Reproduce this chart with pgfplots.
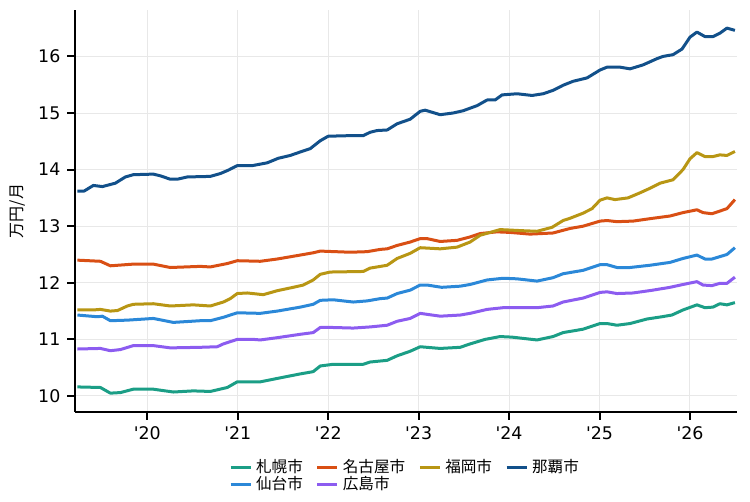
\documentclass[border=0pt]{standalone}
\usepackage{fontspec}
\setmainfont{DejaVu Sans}
\newfontfamily\dejavu{DejaVu Sans}
\newfontfamily\cjk{Noto Sans CJK JP}
\usepackage{pgfplots}
\pgfplotsset{compat=1.18}
\definecolor{csap}{HTML}{1B9E86}
\definecolor{cnag}{HTML}{D94F14}
\definecolor{cfuk}{HTML}{B89614}
\definecolor{cnah}{HTML}{12508A}
\definecolor{csen}{HTML}{2B88D8}
\definecolor{chir}{HTML}{8C5CF0}
\begin{document}
\begin{tikzpicture}
\begin{axis}[
  at={(0,0)}, anchor=south west,
  scale only axis, width=331pt, height=201pt,
  xmin=2019.2, xmax=2026.52, ymin=9.717, ymax=16.82,
  axis lines=left, axis line style={line width=1.1pt, -},
  xtick={2020,2021,2022,2023,2024,2025,2026},
  xticklabels={'20,'21,'22,'23,'24,'25,'26},
  ytick={10,11,12,13,14,15,16},
  tick align=outside, major tick length=3.8pt,
  tick style={line width=1pt, black},
  grid=major, grid style={line width=0.5pt, gray!18},
  /pgf/number format/assume math mode=true,
  every tick label/.append style={font=\dejavu\fontsize{8.7}{10}\selectfont},
  ylabel={\cjk 万円/月},
  ylabel style={at={(axis description cs:-0.086,0.5)}, anchor=center, font=\fontsize{8}{9.6}\selectfont},
  legend columns=4,
  legend style={at={(axis description cs:0.5,-0.096)}, anchor=north, draw=none, fill=none,
    font=\cjk\fontsize{7.8}{9}\selectfont, row sep=-3.3pt,
    /tikz/every even column/.append style={column sep=4.5pt}},
  legend cell align=left,
  legend image code/.code={\draw[#1, line width=1.5pt] (0pt,0pt) -- (10pt,0pt);},
  every axis plot/.append style={line width=1.5pt, line join=round},
]
% 札幌市
\addplot[csap] coordinates {
(2019.227,10.16)(2019.481,10.15)(2019.591,10.05)(2019.702,10.06)(2019.845,10.12)(2020.066,10.12)(2020.287,10.07)(2020.508,10.09)(2020.696,10.08)(2020.884,10.15)(2020.994,10.25)(2021.249,10.25)(2021.436,10.31)(2021.691,10.39)(2021.834,10.43)(2021.912,10.53)(2022.055,10.56)(2022.387,10.56)(2022.464,10.60)(2022.652,10.63)(2022.762,10.71)(2022.906,10.79)(2023.017,10.87)(2023.238,10.84)(2023.459,10.86)(2023.569,10.92)(2023.735,11.00)(2023.901,11.05)(2024.030,11.04)(2024.309,10.99)(2024.486,11.05)(2024.597,11.12)(2024.818,11.18)(2025.006,11.28)(2025.083,11.28)(2025.193,11.25)(2025.337,11.28)(2025.525,11.36)(2025.690,11.40)(2025.800,11.43)(2025.923,11.52)(2026.077,11.61)(2026.166,11.56)(2026.254,11.57)(2026.331,11.63)(2026.409,11.61)(2026.497,11.65)
};
\addlegendentry{札幌市}
% 名古屋市
\addplot[cnag] coordinates {
(2019.227,12.40)(2019.481,12.38)(2019.591,12.30)(2019.845,12.33)(2020.066,12.33)(2020.254,12.27)(2020.586,12.29)(2020.696,12.28)(2020.884,12.34)(2020.994,12.39)(2021.249,12.38)(2021.436,12.42)(2021.691,12.49)(2021.834,12.53)(2021.912,12.56)(2022.243,12.54)(2022.431,12.55)(2022.575,12.59)(2022.652,12.60)(2022.762,12.66)(2022.906,12.72)(2023.017,12.78)(2023.094,12.78)(2023.238,12.73)(2023.425,12.75)(2023.569,12.81)(2023.680,12.87)(2023.867,12.90)(2024.011,12.89)(2024.232,12.86)(2024.486,12.88)(2024.674,12.96)(2024.818,13.00)(2025.006,13.09)(2025.083,13.10)(2025.193,13.08)(2025.370,13.09)(2025.591,13.14)(2025.779,13.18)(2025.923,13.24)(2026.077,13.29)(2026.144,13.24)(2026.243,13.22)(2026.409,13.31)(2026.497,13.47)
};
\addlegendentry{名古屋市}
% 福岡市
\addplot[cfuk] coordinates {
(2019.227,11.52)(2019.403,11.52)(2019.481,11.53)(2019.591,11.50)(2019.670,11.51)(2019.779,11.59)(2019.845,11.62)(2020.066,11.63)(2020.254,11.59)(2020.508,11.61)(2020.696,11.59)(2020.840,11.66)(2020.917,11.72)(2020.994,11.81)(2021.105,11.82)(2021.282,11.79)(2021.436,11.86)(2021.613,11.92)(2021.724,11.96)(2021.834,12.05)(2021.912,12.15)(2022.022,12.19)(2022.387,12.20)(2022.464,12.26)(2022.652,12.31)(2022.762,12.43)(2022.906,12.52)(2023.017,12.62)(2023.238,12.60)(2023.425,12.63)(2023.569,12.72)(2023.680,12.84)(2023.901,12.94)(2024.155,12.92)(2024.309,12.91)(2024.475,12.98)(2024.597,13.10)(2024.674,13.14)(2024.818,13.23)(2024.917,13.31)(2025.006,13.46)(2025.083,13.50)(2025.171,13.47)(2025.315,13.50)(2025.448,13.59)(2025.558,13.67)(2025.669,13.76)(2025.812,13.82)(2025.923,14.00)(2026.000,14.19)(2026.077,14.30)(2026.166,14.23)(2026.254,14.23)(2026.331,14.26)(2026.409,14.25)(2026.497,14.32)
};
\addlegendentry{福岡市}
% 那覇市
\addplot[cnah] coordinates {
(2019.227,13.62)(2019.300,13.62)(2019.403,13.72)(2019.503,13.70)(2019.646,13.76)(2019.757,13.87)(2019.845,13.91)(2020.066,13.92)(2020.144,13.89)(2020.254,13.83)(2020.331,13.83)(2020.442,13.87)(2020.696,13.88)(2020.807,13.93)(2020.895,13.99)(2020.994,14.07)(2021.160,14.07)(2021.326,14.12)(2021.448,14.20)(2021.580,14.25)(2021.724,14.33)(2021.801,14.37)(2021.912,14.51)(2022.000,14.59)(2022.243,14.60)(2022.387,14.60)(2022.464,14.66)(2022.541,14.69)(2022.652,14.70)(2022.762,14.81)(2022.906,14.89)(2023.017,15.03)(2023.072,15.05)(2023.238,14.97)(2023.381,15.00)(2023.492,15.04)(2023.646,15.13)(2023.757,15.23)(2023.845,15.23)(2023.923,15.32)(2024.088,15.34)(2024.254,15.31)(2024.376,15.34)(2024.486,15.40)(2024.597,15.49)(2024.707,15.56)(2024.862,15.62)(2025.006,15.76)(2025.083,15.81)(2025.227,15.81)(2025.337,15.78)(2025.481,15.85)(2025.635,15.96)(2025.702,16.00)(2025.812,16.03)(2025.912,16.13)(2026.000,16.34)(2026.077,16.43)(2026.166,16.35)(2026.254,16.35)(2026.331,16.41)(2026.409,16.50)(2026.497,16.46)
};
\addlegendentry{那覇市}
% 仙台市
\addplot[csen] coordinates {
(2019.227,11.43)(2019.448,11.40)(2019.503,11.41)(2019.591,11.33)(2019.779,11.34)(2020.066,11.37)(2020.287,11.30)(2020.586,11.33)(2020.696,11.33)(2020.840,11.39)(2020.994,11.47)(2021.249,11.46)(2021.436,11.50)(2021.691,11.57)(2021.834,11.62)(2021.912,11.69)(2022.055,11.70)(2022.276,11.66)(2022.431,11.68)(2022.575,11.72)(2022.652,11.73)(2022.762,11.81)(2022.906,11.87)(2023.017,11.96)(2023.094,11.96)(2023.255,11.92)(2023.459,11.94)(2023.569,11.97)(2023.757,12.05)(2023.934,12.08)(2024.088,12.07)(2024.309,12.03)(2024.486,12.09)(2024.597,12.16)(2024.818,12.22)(2025.006,12.32)(2025.083,12.32)(2025.193,12.27)(2025.337,12.27)(2025.558,12.31)(2025.779,12.36)(2025.923,12.43)(2026.077,12.49)(2026.166,12.42)(2026.243,12.42)(2026.409,12.50)(2026.497,12.62)
};
\addlegendentry{仙台市}
% 広島市
\addplot[chir] coordinates {
(2019.227,10.83)(2019.481,10.84)(2019.591,10.80)(2019.702,10.82)(2019.845,10.89)(2020.066,10.89)(2020.254,10.85)(2020.586,10.86)(2020.773,10.87)(2020.840,10.92)(2020.994,11.00)(2021.171,11.00)(2021.249,10.99)(2021.436,11.03)(2021.691,11.09)(2021.834,11.12)(2021.912,11.21)(2022.055,11.21)(2022.276,11.20)(2022.464,11.22)(2022.652,11.25)(2022.762,11.32)(2022.906,11.37)(2023.017,11.46)(2023.238,11.41)(2023.459,11.43)(2023.569,11.46)(2023.757,11.53)(2023.934,11.56)(2024.309,11.56)(2024.486,11.59)(2024.597,11.66)(2024.818,11.73)(2025.006,11.83)(2025.083,11.84)(2025.193,11.81)(2025.370,11.82)(2025.591,11.87)(2025.779,11.92)(2025.923,11.97)(2026.077,12.02)(2026.144,11.96)(2026.243,11.95)(2026.331,11.99)(2026.409,11.99)(2026.497,12.10)
};
\addlegendentry{広島市}
\end{axis}
\path[use as bounding box] (-37.5pt,-45pt) rectangle (337.5pt,206pt);
\end{tikzpicture}
\end{document}
